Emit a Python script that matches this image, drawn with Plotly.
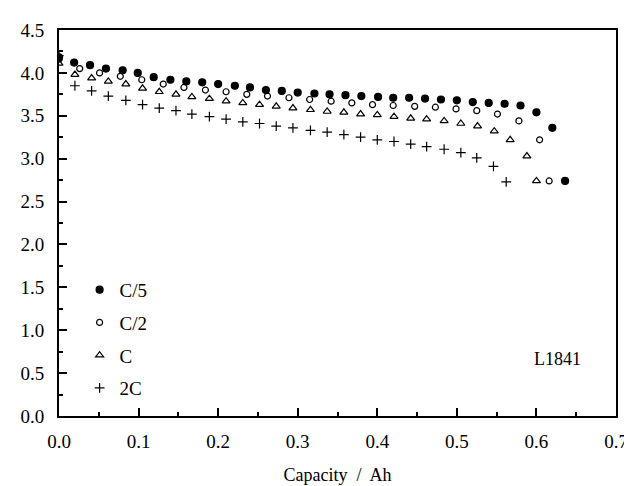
import plotly.graph_objects as go

# discharge curves
cap_c5 = [0, 0.019, 0.039, 0.059, 0.080, 0.099, 0.119, 0.140, 0.160, 0.180, 0.200, 0.221, 0.240,
          0.260, 0.280, 0.300, 0.321, 0.340, 0.360, 0.380, 0.401, 0.420, 0.440, 0.460, 0.480,
          0.500, 0.520, 0.540, 0.560, 0.580, 0.600, 0.620, 0.636]
volt_c5 = [4.18, 4.12, 4.09, 4.05, 4.03, 4.00, 3.95, 3.92, 3.90, 3.89, 3.87, 3.85, 3.83,
           3.80, 3.79, 3.77, 3.76, 3.75, 3.74, 3.73, 3.72, 3.71, 3.71, 3.70, 3.69,
           3.68, 3.66, 3.65, 3.64, 3.62, 3.54, 3.36, 2.74]

cap_c2 = [0, 0.026, 0.051, 0.077, 0.104, 0.131, 0.157, 0.184, 0.210, 0.236, 0.262, 0.289, 0.315,
          0.342, 0.368, 0.394, 0.420, 0.447, 0.473, 0.499, 0.525, 0.551, 0.578, 0.604, 0.616]
volt_c2 = [4.16, 4.05, 4.00, 3.96, 3.92, 3.87, 3.83, 3.80, 3.78, 3.75, 3.73, 3.71, 3.69,
           3.67, 3.65, 3.63, 3.62, 3.61, 3.60, 3.58, 3.56, 3.52, 3.44, 3.22, 2.74]

cap_c1 = [0, 0.020, 0.041, 0.062, 0.084, 0.105, 0.126, 0.147, 0.167, 0.189, 0.210, 0.231, 0.252,
          0.273, 0.294, 0.316, 0.337, 0.358, 0.379, 0.400, 0.421, 0.442, 0.462, 0.484, 0.505,
          0.526, 0.547, 0.567, 0.588, 0.600]
volt_c1 = [4.11, 3.98, 3.94, 3.90, 3.87, 3.82, 3.78, 3.75, 3.72, 3.70, 3.67, 3.65, 3.63,
           3.61, 3.59, 3.57, 3.55, 3.54, 3.52, 3.51, 3.49, 3.47, 3.46, 3.44, 3.41,
           3.38, 3.32, 3.22, 3.03, 2.74]

cap_2c = [0, 0.020, 0.041, 0.062, 0.084, 0.105, 0.126, 0.147, 0.167, 0.189, 0.210, 0.231, 0.252,
          0.273, 0.294, 0.316, 0.337, 0.358, 0.379, 0.400, 0.421, 0.442, 0.462, 0.484, 0.505,
          0.525, 0.546, 0.562]
volt_2c = [4.20, 3.85, 3.79, 3.73, 3.68, 3.63, 3.59, 3.56, 3.52, 3.49, 3.46, 3.43, 3.41,
           3.38, 3.36, 3.33, 3.31, 3.28, 3.25, 3.22, 3.20, 3.17, 3.14, 3.11, 3.07,
           3.01, 2.91, 2.73]

series = [
    ("C/5", cap_c5, volt_c5, "circle", 7),
    ("C/2", cap_c2, volt_c2, "circle-open", 6),
    ("C", cap_c1, volt_c1, "triangle-up-open", 7),
    ("2C", cap_2c, volt_2c, "cross-thin-open", 7),
]

FONT = "Liberation Serif"

fig = go.Figure()
for name, xs, ys, sym, sz in series:
    fig.add_trace(go.Scatter(
        x=xs, y=ys, name=name, mode="markers", legendgroup=name,
        marker=dict(symbol=sym, size=sz, color="black", line=dict(color="black", width=1.2)),
    ))

fig.add_annotation(x=0.659, y=0.67, text="L1841", showarrow=False, xanchor="right",
                   font=dict(family=FONT, size=18, color="black"))

axis_common = dict(
    showgrid=False, zeroline=False, showline=True, linecolor="black", linewidth=2,
    mirror=True, ticks="inside", ticklen=8, tickwidth=1.5, tickcolor="black",
    tickfont=dict(family=FONT, size=19, color="black"),
)
fig.update_xaxes(range=[0, 0.7], dtick=0.1, tickformat=".1f", ticklabelstandoff=7,
                 minor=dict(ticks="inside", ticklen=4, dtick=0.05, tickcolor="black", tickwidth=1.5),
                 title=dict(text="Capacity  /  Ah", font=dict(family=FONT, size=18, color="black"), standoff=18),
                 **axis_common)
fig.update_yaxes(range=[0, 4.5], dtick=0.5, tickformat=".1f", ticklabelstandoff=9,
                 minor=dict(ticks="inside", ticklen=4, dtick=0.25, tickcolor="black", tickwidth=1.5),
                 **axis_common)

fig.update_layout(
    width=632, height=486,
    margin=dict(l=49, r=14, t=20, b=72),
    paper_bgcolor="white", plot_bgcolor="white",
    font=dict(family=FONT, color="black"),
    legend=dict(x=0.037, y=0.376, xanchor="left", yanchor="top", bgcolor="rgba(0,0,0,0)",
                font=dict(family=FONT, size=19), tracegroupgap=5),
)

fig.write_html("out.html")
